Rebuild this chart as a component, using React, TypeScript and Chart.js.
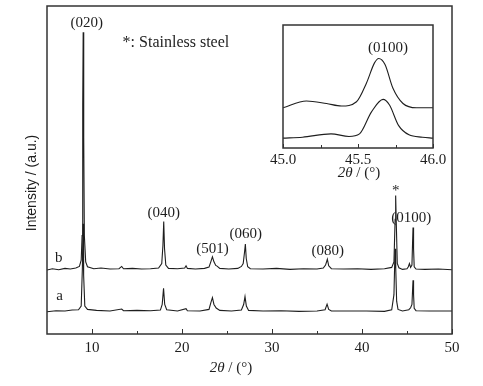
import React, { useEffect, useRef } from "react";
import { Chart, registerables } from "chart.js";
Chart.register(...registerables);

// Main pattern b (upper trace), [2θ, intensity]
const traceB: [number, number][] = [
  [5.0, 19.5], [5.6, 19.9], [6.3, 19.6], [7.0, 20.0], [7.6, 19.8], [8.2, 20.1], [8.6, 20.6],
  [8.8, 22.5], [8.9, 30], [8.97, 70], [9.02, 92], [9.08, 60], [9.15, 30], [9.3, 22], [9.5, 20.5],
  [10.2, 19.9], [11.0, 20.1], [12.0, 19.8], [13.0, 19.9], [13.3, 20.6], [13.5, 19.9], [14.5, 20.0],
  [15.5, 19.8], [16.5, 19.9], [17.4, 20.1], [17.75, 21.5], [17.88, 27], [17.97, 34.3], [18.06, 26],
  [18.2, 21], [18.5, 20], [19.5, 19.9], [20.3, 20.1], [20.45, 20.8], [20.6, 20], [21.5, 19.8],
  [22.5, 20], [23.0, 20.4], [23.2, 22], [23.38, 23.5], [23.55, 22], [23.75, 20.9], [23.9, 20.7],
  [24.2, 20], [25.2, 19.8], [26.2, 20], [26.6, 20.6], [26.8, 21.5], [26.95, 25], [27.04, 27.4],
  [27.14, 23], [27.3, 20.5], [27.6, 19.9], [29.0, 19.8], [30.5, 20], [32.0, 19.7], [33.5, 19.9],
  [35.0, 19.8], [35.7, 20.1], [35.95, 21], [36.15, 22.8], [36.3, 20.8], [36.6, 19.9], [38.0, 19.8],
  [39.5, 19.9], [41.0, 19.7], [42.5, 19.9], [43.3, 20.3], [43.55, 22], [43.68, 35], [43.74, 42.2],
  [43.8, 35], [43.92, 21.5], [44.1, 20.2], [44.5, 19.7], [45.0, 19.9], [45.15, 20.5], [45.27, 21.5],
  [45.4, 20.3], [45.55, 21], [45.62, 28], [45.67, 32.5], [45.73, 26], [45.8, 20.5], [46.0, 19.8],
  [47.0, 19.7], [48.5, 19.8], [50.0, 19.6],
];

// Main pattern a (lower trace)
const traceA: [number, number][] = [
  [5.0, 6.8], [6.0, 7.1], [7.0, 7.0], [7.8, 7.3], [8.5, 7.4], [8.8, 8.5], [8.93, 20], [9.0, 33.6],
  [9.07, 18], [9.2, 8.5], [9.5, 7.5], [10.5, 7.2], [12.0, 7.0], [13.3, 7.6], [13.5, 7.1], [15.0, 7.2],
  [16.5, 7.1], [17.6, 7.3], [17.8, 9], [17.95, 13.9], [18.08, 9], [18.3, 7.4], [19.5, 7.0],
  [20.45, 7.7], [20.6, 7.1], [22.0, 7.0], [23.0, 7.5], [23.2, 9.5], [23.38, 11.1], [23.55, 9],
  [23.8, 7.9], [24.2, 7.2], [25.5, 7.0], [26.6, 7.3], [26.85, 9], [27.0, 11.4], [27.15, 8.5],
  [27.4, 7.2], [29.0, 7.0], [31.0, 7.1], [33.0, 6.9], [35.0, 7.0], [35.9, 7.4], [36.12, 9.1],
  [36.3, 7.5], [36.6, 7.0], [38.5, 7.0], [40.5, 7.0], [42.5, 6.9], [43.3, 7.4], [43.55, 12],
  [43.67, 26], [43.75, 20], [43.85, 10], [44.0, 7.5], [44.5, 7.0], [45.2, 7.4], [45.4, 8.0],
  [45.55, 9], [45.63, 14], [45.67, 16.4], [45.73, 12], [45.8, 7.8], [46.0, 7.1], [47.5, 7.0], [50.0, 7.0],
];

// Inset (0100) region
const insetB: [number, number][] = [
  [45.0, 32.7], [45.156, 38.2], [45.29, 36.2], [45.39, 34.1], [45.49, 37.6], [45.556, 52.7],
  [45.61, 69.2], [45.638, 72.8], [45.68, 67.9], [45.733, 48.6], [45.8, 36.2], [45.89, 32.7], [46.0, 32.7],
];
const insetA: [number, number][] = [
  [45.0, 8.0], [45.13, 8.8], [45.32, 11.5], [45.44, 9.4], [45.51, 11.5], [45.59, 29.4],
  [45.667, 39.5], [45.71, 34.9], [45.77, 18.4], [45.84, 10.7], [45.93, 8.8], [46.0, 8.0],
];

const mainTicks = [10, 20, 30, 40, 50];
const mainMinorTicks = [15, 25, 35, 45];
const insetTicks = [45.0, 45.5, 46.0];
const insetMinorTicks = [45.25, 45.75];

const mainLabels = [
  { text: "(020)", x: 9.41, y: 94.8 },
  { text: "(040)", x: 17.97, y: 37 },
  { text: "(501)", x: 23.4, y: 26 },
  { text: "(060)", x: 27.08, y: 30.6 },
  { text: "(080)", x: 36.2, y: 25.4 },
  { text: "*", x: 43.74, y: 43.6 },
  { text: "(0100)", x: 45.47, y: 35.2 },
  { text: "b", x: 6.3, y: 23.2 },
  { text: "a", x: 6.4, y: 11.6 },
];
const noteLabel = { text: "*: Stainless steel", x: 13.4, y: 88.7 };
const insetLabels = [{ text: "(0100)", x: 45.7, y: 81.3 }];

const SERIF = "'Liberation Serif', 'DejaVu Serif', serif";
const INK = "#1e1e1e";

function toXY(pts: [number, number][]) {
  return pts.map(([x, y]) => ({ x, y }));
}

function drawFrameAndTicks(chart: any, major: number[], minor: number[], majLen: number, minLen: number) {
  const { ctx, chartArea } = chart;
  const xs = chart.scales.x;
  ctx.save();
  ctx.strokeStyle = "#333";
  ctx.lineWidth = 1.5;
  ctx.strokeRect(chartArea.left, chartArea.top, chartArea.right - chartArea.left, chartArea.bottom - chartArea.top);
  ctx.lineWidth = 1;
  const tick = (v: number, len: number) => {
    const px = Math.round(xs.getPixelForValue(v)) + 0.5;
    ctx.beginPath();
    ctx.moveTo(px, chartArea.bottom);
    ctx.lineTo(px, chartArea.bottom - len);
    ctx.stroke();
  };
  major.forEach((v) => tick(v, majLen));
  minor.forEach((v) => tick(v, minLen));
  ctx.restore();
}

function drawTitle2Theta(ctx: CanvasRenderingContext2D, cx: number, cy: number, size: number) {
  ctx.save();
  ctx.fillStyle = INK;
  ctx.textBaseline = "middle";
  const a = "2\u03b8";
  const b = " / (\u00b0)";
  ctx.font = `italic ${size}px ${SERIF}`;
  const wa = ctx.measureText(a).width;
  ctx.font = `${size}px ${SERIF}`;
  const wb = ctx.measureText(b).width;
  const start = cx - (wa + wb) / 2;
  ctx.font = `italic ${size}px ${SERIF}`;
  ctx.textAlign = "left";
  ctx.fillText(a, start, cy);
  ctx.font = `${size}px ${SERIF}`;
  ctx.fillText(b, start + wa, cy);
  ctx.restore();
}

export default function App() {
  const mainRef = useRef<HTMLCanvasElement>(null);
  const insetRef = useRef<HTMLCanvasElement>(null);

  useEffect(() => {
    const lineDs = (data: [number, number][]) => ({
      data: toXY(data),
      borderColor: INK,
      borderWidth: 1.1,
      pointRadius: 0,
      tension: 0,
      fill: false,
    });

    const mainPlugin = {
      id: "mainDeco",
      afterDraw(chart: any) {
        const { ctx } = chart;
        const xs = chart.scales.x;
        const ys = chart.scales.y;
        drawFrameAndTicks(chart, mainTicks, mainMinorTicks, 5, 3);
        ctx.save();
        ctx.fillStyle = INK;
        ctx.textAlign = "center";
        ctx.textBaseline = "middle";
        ctx.font = `15px ${SERIF}`;
        mainLabels.forEach((l) => ctx.fillText(l.text, xs.getPixelForValue(l.x), ys.getPixelForValue(l.y)));
        ctx.textAlign = "left";
        ctx.font = `16px ${SERIF}`;
        ctx.fillText(noteLabel.text, xs.getPixelForValue(noteLabel.x), ys.getPixelForValue(noteLabel.y));
        // y title
        ctx.save();
        ctx.translate(32, 183);
        ctx.rotate(-Math.PI / 2);
        ctx.textAlign = "center";
        ctx.font = `14px 'Liberation Sans', Arial, sans-serif`;
        ctx.fillText("Intensity / (a.u.)", 0, 0);
        ctx.restore();
        ctx.restore();
        drawTitle2Theta(ctx, 231, 368, 15);
      },
    };

    const main = new Chart(mainRef.current!, {
      type: "line",
      data: { datasets: [lineDs(traceB), lineDs(traceA)] },
      options: {
        animation: false,
        responsive: false,
        devicePixelRatio: 1,
        layout: { padding: { left: 47, right: 31, top: 6, bottom: 24 } },
        plugins: { legend: { display: false }, tooltip: { enabled: false } },
        scales: {
          x: {
            type: "linear",
            min: 5,
            max: 50,
            afterBuildTicks: (s: any) => { s.ticks = mainTicks.map((v) => ({ value: v })); },
            grid: { display: false, drawTicks: false },
            border: { display: false },
            ticks: { padding: 5, maxRotation: 0, autoSkip: false, color: INK, font: { family: SERIF, size: 15 } },
          },
          y: { type: "linear", min: 0, max: 100, display: false },
        },
      },
      plugins: [mainPlugin],
    } as any);

    const insetPlugin = {
      id: "insetDeco",
      afterDraw(chart: any) {
        const { ctx } = chart;
        const xs = chart.scales.x;
        const ys = chart.scales.y;
        drawFrameAndTicks(chart, insetTicks, insetMinorTicks, 4, 3);
        ctx.save();
        ctx.fillStyle = INK;
        ctx.textAlign = "center";
        ctx.textBaseline = "middle";
        ctx.font = `15px ${SERIF}`;
        insetLabels.forEach((l) => ctx.fillText(l.text, xs.getPixelForValue(l.x), ys.getPixelForValue(l.y)));
        ctx.restore();
        drawTitle2Theta(ctx, 106, 158, 15);
      },
    };

    const inset = new Chart(insetRef.current!, {
      type: "line",
      data: {
        datasets: [
          { ...lineDs(insetB), cubicInterpolationMode: "monotone" },
          { ...lineDs(insetA), cubicInterpolationMode: "monotone" },
        ],
      },
      options: {
        animation: false,
        responsive: false,
        devicePixelRatio: 1,
        layout: { padding: { left: 30, right: 30, top: 10, bottom: 18 } },
        plugins: { legend: { display: false }, tooltip: { enabled: false } },
        scales: {
          x: {
            type: "linear",
            min: 45,
            max: 46,
            afterBuildTicks: (s: any) => { s.ticks = insetTicks.map((v) => ({ value: v })); },
            grid: { display: false, drawTicks: false },
            border: { display: false },
            ticks: {
              padding: 3,
              maxRotation: 0,
              autoSkip: false,
              color: INK,
              font: { family: SERIF, size: 15 },
              callback: (v: any) => Number(v).toFixed(1),
            },
          },
          y: { type: "linear", min: 0, max: 100, display: false },
        },
      },
      plugins: [insetPlugin],
    } as any);

    return () => {
      main.destroy();
      inset.destroy();
    };
  }, []);

  return (
    <div style={{ position: "fixed", left: 0, top: 0, width: 483, height: 386, background: "#fff" }}>
      <canvas ref={mainRef} width={483} height={386} style={{ position: "absolute", left: 0, top: 0 }} />
      <canvas ref={insetRef} width={210} height={175} style={{ position: "absolute", left: 253, top: 15 }} />
    </div>
  );
}
